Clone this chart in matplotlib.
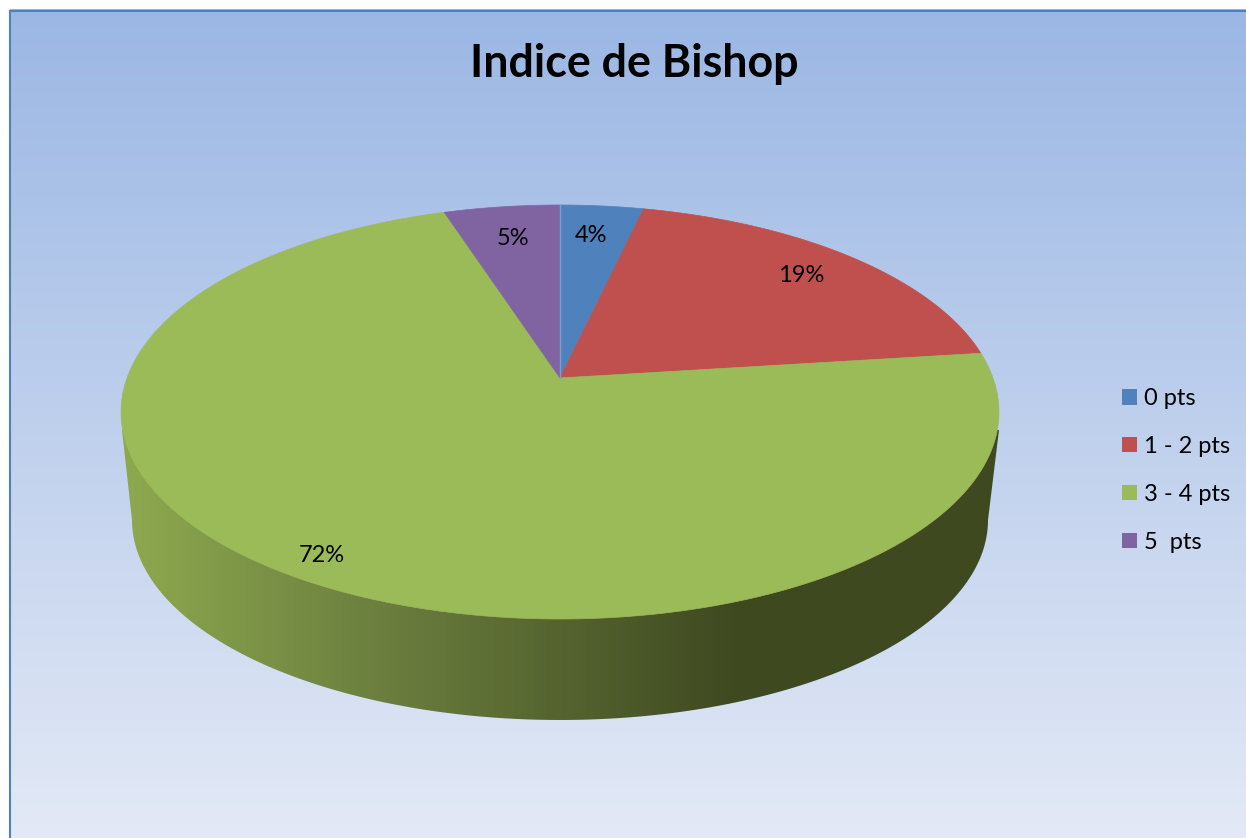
import numpy as np
import matplotlib.pyplot as plt
from matplotlib.colors import LinearSegmentedColormap
from matplotlib.patches import Patch, Polygon

categories = ["0 pts", "1 - 2 pts", "3 - 4 pts", "5  pts"]
values = [3.6, 19.4, 72.0, 5.0]
colors = ["#4F81BD", "#C0504D", "#9BBB59", "#8064A2"]
label_radius = [0.81, 0.83, 0.90, 0.81]
label_nudge_x = [-4, -3, 0, 1]
label_nudge_y = [1, 0, 3, 3]

W, H = 1246, 838

# perspective of the pie disk, in pixels
CX, CY = 560, 378
PERSP = 0.1643
AX, AY = 433, 201.4


def project(angle, radius=1.0):
    # angle is clockwise from the top, in radians
    x = radius * np.sin(angle)
    y = radius * np.cos(angle)
    den = 1 + PERSP * y
    return CX + AX * x / den, CY - AY * y / den


plt.rcParams["font.family"] = ["Lato", "DejaVu Sans"]

fig = plt.figure(figsize=(W / 100, H / 100), dpi=100)
ax = fig.add_axes([0, 0, 1, 1])
ax.axis("off")

# background with vertical gradient
bg_cmap = LinearSegmentedColormap.from_list("bg", ["#9BB7E4", "#E3E9F6"])
ax.imshow(np.linspace(0, 1, 256).reshape(-1, 1), cmap=bg_cmap, extent=(10, W, H, 10),
          aspect="auto", zorder=0)
ax.plot([10, 10], [H, 11], color="#4F81BD", lw=1.5, zorder=1)
ax.plot([10, W], [11, 11], color="#4F81BD", lw=1.5, zorder=1)

# side of the pie, lower rim is an ellipse
t = np.linspace(np.pi, 0, 200)
rim_x = 560 + 428 * np.cos(t)
rim_y = 520 + 200 * np.sin(t)
side_x = np.concatenate([[122], rim_x, [999]])
side_y = np.concatenate([[430], rim_y, [430]])
side_cmap = LinearSegmentedColormap.from_list(
    "side", [(0, "#8EAA4F"), (0.274, "#6E8240"), (0.705, "#3E4920"), (1, "#3E4920")])
side = ax.imshow(np.linspace(0, 1, 512).reshape(1, -1), cmap=side_cmap,
                 extent=(118, 1000, 730, 400), aspect="auto", zorder=2)
side.set_clip_path(Polygon(np.column_stack([side_x, side_y]), closed=True, transform=ax.transData))

ax.set_xlim(0, W)
ax.set_ylim(H, 0)

# top of the pie
start = 0.0
total = sum(values)
for i, value in enumerate(values):
    end = start + value / total * 2 * np.pi
    angles = np.linspace(start, end, 200)
    xs, ys = project(angles)
    ax.fill(np.concatenate([[CX], xs]), np.concatenate([[CY], ys]), color=colors[i], lw=0.5, zorder=3)
    lx, ly = project((start + end) / 2, label_radius[i])
    ax.text(lx + label_nudge_x[i], ly + label_nudge_y[i], "{:.0f}%".format(value),
            ha="center", va="center", fontsize=17, color="black", zorder=4)
    start = end
ax.plot([CX, CX], [CY, CY - AY / (1 + PERSP)], color="#7BA0CC", lw=1, zorder=3.5)

ax.text(634, 64, "Indice de Bishop", ha="center", va="center", fontsize=32.2,
        fontweight="bold", color="black")

handles = [Patch(facecolor=c, edgecolor="none") for c in colors]
ax.legend(handles, categories, loc="center left", bbox_to_anchor=(1110 / W, 1 - 470.5 / H),
          frameon=False, fontsize=17, handlelength=0.63, handleheight=0.63, handletextpad=0.3,
          labelspacing=1.14, borderpad=0, borderaxespad=0.5, labelcolor="black")

fig.savefig("out.png", dpi=100)
